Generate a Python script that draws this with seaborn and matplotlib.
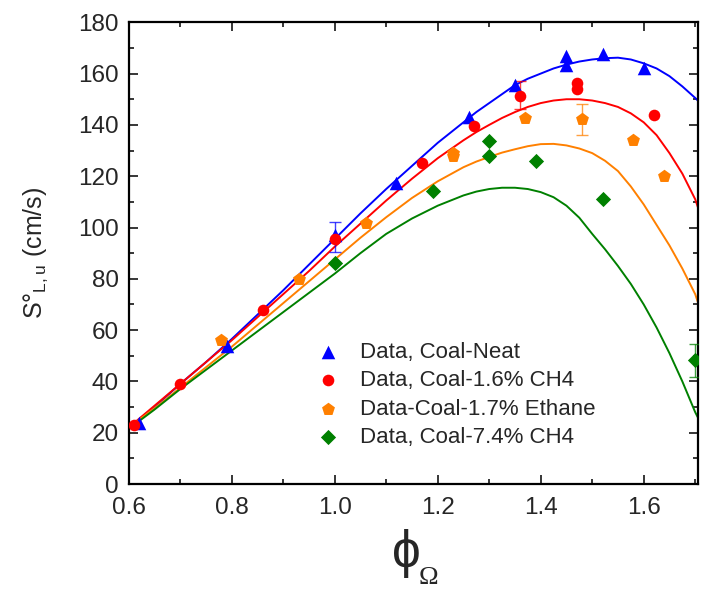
import numpy as np
import pandas as pd
import matplotlib
matplotlib.use("Agg")
import matplotlib.pyplot as plt
import seaborn as sns
from matplotlib.ticker import MultipleLocator, FormatStrFormatter

# Series names, colours and markers
series = ["Data, Coal-Neat", "Data, Coal-1.6% CH4",
          "Data-Coal-1.7% Ethane", "Data, Coal-7.4% CH4"]
colors = ["#0000FF", "#FF0000", "#FF8000", "#008000"]
markers = ["^", "o", "p", "D"]

# Measured laminar flame speeds (cm/s) vs equivalence ratio
neat_phi = [0.62, 0.79, 1.00, 1.12, 1.26, 1.35, 1.45, 1.45, 1.52, 1.60]
neat_s = [23.6, 54.0, 97.0, 117.5, 143.0, 155.4, 167.0, 163.2, 167.8, 162.2]
ch4a_phi = [0.61, 0.70, 0.86, 1.00, 1.17, 1.27, 1.36, 1.47, 1.47, 1.62]
ch4a_s = [23.0, 39.0, 68.0, 95.4, 125.3, 139.6, 151.1, 156.3, 154.1, 143.9]
eth_phi = [0.78, 0.93, 1.06, 1.23, 1.23, 1.37, 1.48, 1.58, 1.64]
eth_s = [56.0, 80.0, 101.6, 129.0, 128.0, 142.8, 142.2, 134.2, 120.2]
ch4b_phi = [1.00, 1.19, 1.30, 1.30, 1.39, 1.52, 1.70]
ch4b_s = [86.0, 114.3, 133.6, 127.9, 125.8, 111.3, 48.3]

# Error bars: series index, phi, centre, low, high
err_series = [0, 1, 2, 3]
err_phi = [1.00, 1.36, 1.48, 1.70]
err_mid = [97.0, 151.1, 142.2, 48.3]
err_lo = [90.5, 146.0, 136.2, 41.8]
err_hi = [102.2, 157.0, 148.3, 54.4]

# Computed flame speed curves
model_phi = [0.60, 0.65, 0.70, 0.75, 0.80, 0.85, 0.90, 0.95, 1.00, 1.05,
             1.10, 1.15, 1.20, 1.25, 1.275, 1.30, 1.325, 1.35, 1.375, 1.40,
             1.425, 1.45, 1.475, 1.50, 1.525, 1.55, 1.575, 1.60, 1.625, 1.65,
             1.675, 1.70, 1.705]
model_neat = [22.0, 30.0, 39.0, 47.5, 56.5, 66.0, 75.5, 85.5, 95.5, 105.5,
              115.0, 124.0, 133.0, 141.0, 145.0, 148.5, 152.0, 155.5, 158.0, 160.0,
              162.0, 163.5, 164.7, 165.5, 166.0, 166.2, 165.5, 164.0, 162.0, 159.0,
              155.0, 150.5, 149.5]
model_ch4a = [22.0, 30.5, 39.0, 47.5, 56.0, 65.0, 74.0, 83.0, 92.5, 101.5,
              110.5, 119.0, 127.0, 134.0, 137.2, 140.0, 142.7, 145.0, 147.0, 148.5,
              149.5, 150.0, 150.0, 149.5, 148.5, 147.0, 144.5, 141.0, 136.0, 129.0,
              121.0, 111.0, 108.0]
model_eth = [22.0, 29.5, 37.5, 45.5, 53.5, 62.0, 70.5, 79.0, 87.5, 96.0,
             104.0, 111.5, 118.0, 123.5, 125.7, 127.5, 129.2, 130.5, 131.7, 132.5,
             132.6, 132.0, 130.8, 129.0, 126.0, 122.0, 116.0, 109.0, 101.0, 93.0,
             84.0, 74.0, 71.0]
model_ch4b = [21.5, 29.0, 37.0, 44.5, 52.0, 59.5, 67.0, 74.5, 82.0, 90.0,
              97.5, 103.5, 108.5, 112.5, 114.0, 115.0, 115.5, 115.5, 115.0, 113.8,
              111.8, 108.5, 103.8, 97.5, 91.5, 85.0, 78.0, 70.0, 61.0, 51.0,
              40.0, 28.0, 26.0]

points = [(neat_phi, neat_s), (ch4a_phi, ch4a_s), (eth_phi, eth_s), (ch4b_phi, ch4b_s)]
models = [model_neat, model_ch4a, model_eth, model_ch4b]

pts_df = pd.concat([pd.DataFrame({"phi": p, "S": s, "series": name})
                    for (p, s), name in zip(points, series)], ignore_index=True)
mod_df = pd.concat([pd.DataFrame({"phi": model_phi, "S": m, "series": name})
                    for m, name in zip(models, series)], ignore_index=True)

sns.set_theme(style="white")
plt.rcParams["font.family"] = ["Liberation Sans", "DejaVu Sans"]
plt.rcParams["mathtext.default"] = "regular"

fig = plt.figure(figsize=(7.02, 5.91), dpi=100)
ax = fig.add_axes([0.1833, 0.1810, 0.8107, 0.7813])

palette = dict(zip(series, colors))
sns.lineplot(data=mod_df, x="phi", y="S", hue="series", palette=palette,
             estimator=None, sort=False, linewidth=1.4, legend=False, ax=ax, zorder=2)

sizes = {"^": 95, "o": 70, "p": 95, "D": 60}
for name, c, m in zip(series, colors, markers):
    sns.scatterplot(data=pts_df[pts_df["series"] == name], x="phi", y="S",
                    color=c, marker=m, s=sizes[m], linewidth=0, label=name,
                    ax=ax, zorder=4)

for i, x, mid, lo, hi in zip(err_series, err_phi, err_mid, err_lo, err_hi):
    ax.errorbar([x], [mid], yerr=[[mid - lo], [hi - mid]], fmt="none",
                ecolor=colors[i], elinewidth=1.0, capsize=4, capthick=1.0,
                alpha=0.75, zorder=3)

ax.set_xlim(0.6, 1.705)
ax.set_ylim(0, 180)
ax.xaxis.set_major_locator(MultipleLocator(0.2))
ax.xaxis.set_minor_locator(MultipleLocator(0.1))
ax.yaxis.set_major_locator(MultipleLocator(20))
ax.yaxis.set_minor_locator(MultipleLocator(10))
ax.xaxis.set_major_formatter(FormatStrFormatter("%.1f"))

for sp in ax.spines.values():
    sp.set_visible(True)
    sp.set_color("black")
    sp.set_linewidth(1.6)

ax.tick_params(which="both", direction="in", top=True, right=True,
               bottom=True, left=True, color="black", width=1.1)
ax.tick_params(which="major", length=6.5, labelsize=17.5)
ax.tick_params(which="minor", length=3.5)
ax.tick_params(axis="x", which="major", pad=9)
ax.tick_params(axis="y", which="major", pad=7)

# x label: large phi with a smaller Omega subscript
ax.set_xlabel(r"$\phi$", fontsize=37, math_fontfamily="stix", va="center")
ax.xaxis.set_label_coords(0.487, -0.1515)
ax.text(0.526, -0.2035, "Ω", transform=ax.transAxes, ha="center", va="center",
        fontsize=19, family="Liberation Serif", clip_on=False)

ax.set_ylabel(r"S°$_{L,u}$ (cm/s)", fontsize=18, va="center")
ax.yaxis.set_label_coords(-0.163, 0.5)

leg = ax.legend(loc="upper left", bbox_to_anchor=(0.327, 0.3085), frameon=False,
                fontsize=16, borderpad=0, labelspacing=0.34, handlelength=1.2,
                handletextpad=0.85, borderaxespad=0)

fig.savefig("out.png", dpi=100)
